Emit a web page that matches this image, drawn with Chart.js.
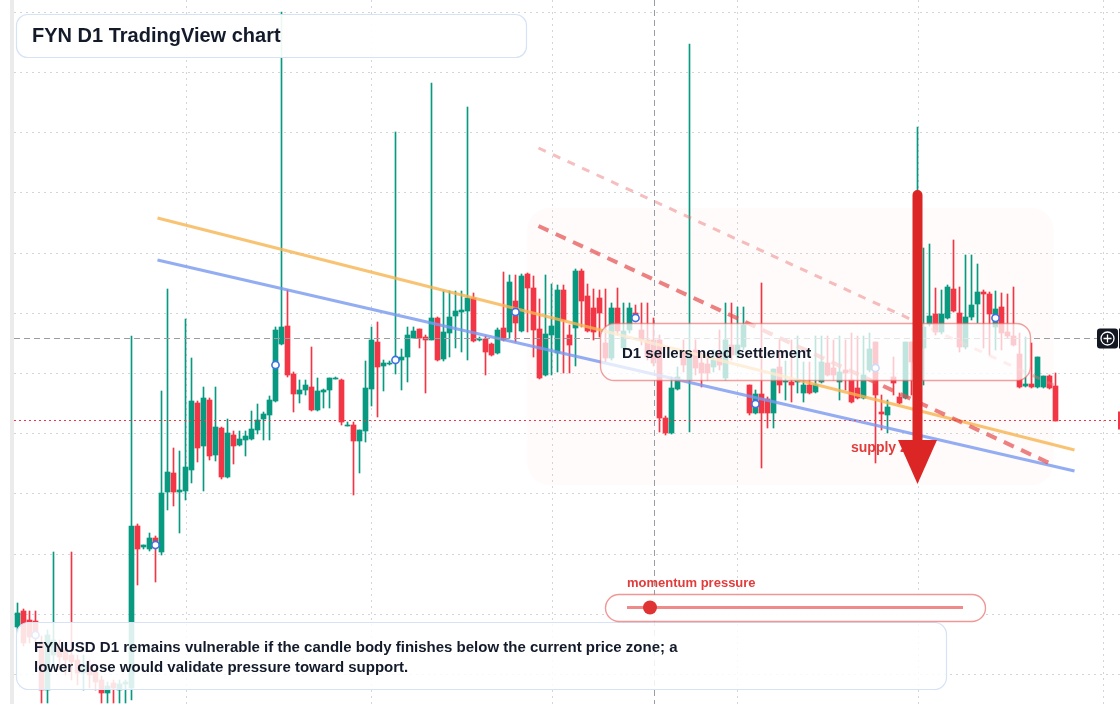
<!DOCTYPE html>
<html lang="en">
<head>
    <meta charset="UTF-8">
    <title>FYN D1 TradingView chart</title>
    <style>
        html, body { margin: 0; padding: 0; background: #ffffff; }
        canvas { display: block; }
    </style>
    <script src="https://cdn.jsdelivr.net/npm/chart.js"></script>
</head>
<body>
<canvas id="fynChart" width="1120" height="704"></canvas>
<script>
    // FYNUSD daily candles, oldest first
    const openP = [
        0.77,0.93,0.84,0.83,0.62,0.14,0.49,0.56,0.54,0.49,
        0.44,0.31,0.39,0.32,0.24,0.11,0.21,0.14,0.20,0.16,
        1.78,1.57,1.55,1.66,1.52,2.12,2.31,2.12,2.13,2.34,
        3.01,2.58,3.04,2.49,2.76,2.27,2.69,2.59,2.64,2.65,
        2.74,2.85,2.89,3.03,3.60,3.78,3.30,3.10,3.14,3.17,
        2.94,3.12,3.14,3.25,3.24,2.78,2.79,2.63,2.73,3.15,
        3.62,3.38,3.40,3.43,3.44,3.47,3.66,3.75,3.67,3.64,
        3.86,3.45,3.71,3.88,3.92,3.93,4.06,3.64,3.65,3.60,
        3.51,3.76,3.72,4.03,3.73,4.30,4.16,3.75,3.29,3.69,
        3.51,4.14,3.69,3.76,4.33,4.08,3.96,4.06,3.61,3.46,
        3.96,3.56,3.74,3.91,3.74,3.64,3.64,3.64,2.86,2.71,
        3.15,3.52,3.24,3.54,3.41,3.40,3.37,3.49,3.26,3.59,
        3.49,3.57,3.19,2.91,3.10,3.05,2.91,3.37,3.22,3.22,
        3.22,3.11,3.19,3.12,3.22,3.41,3.36,3.22,3.34,3.24,
        3.16,3.06,3.34,3.62,2.92,2.89,3.27,3.07,3.06,3.62,
        3.64,3.56,3.80,3.90,3.72,3.86,4.15,3.91,3.57,3.87,
        4.00,4.12,4.10,3.77,3.97,3.72,3.68,3.50,3.18,3.20,
        3.17,3.17,3.28,3.18
    ];
    const highP = [
        1.01,0.95,0.93,0.93,0.68,0.74,1.52,0.64,0.59,1.52,
        0.49,0.49,0.44,0.36,0.28,0.22,0.24,0.24,0.24,3.68,
        1.80,1.59,1.71,1.68,3.13,4.15,2.56,2.53,3.85,3.46,
        3.03,3.17,3.06,3.17,2.77,2.85,2.73,2.73,2.73,2.93,
        3.00,2.92,3.08,3.77,6.92,4.14,3.32,3.24,3.24,3.57,
        3.26,3.15,3.26,3.27,3.25,2.82,2.82,2.74,3.43,3.77,
        3.82,3.44,3.43,5.72,3.55,3.77,3.77,3.75,3.69,6.21,
        3.87,4.13,4.13,4.13,4.13,5.97,4.11,3.67,3.68,3.61,
        3.76,4.32,4.29,4.29,4.30,4.31,4.28,4.05,4.29,4.20,
        4.19,4.19,3.79,4.35,4.35,4.20,4.15,4.14,4.15,4.01,
        4.16,4.01,4.01,3.99,4.01,4.01,3.86,3.69,2.88,3.27,
        3.37,3.64,6.60,3.64,3.51,3.49,3.54,3.74,4.01,4.01,
        3.97,3.97,3.19,3.14,4.21,3.07,3.35,3.64,3.43,3.64,
        3.68,3.42,3.42,3.68,3.68,3.68,3.64,3.68,3.64,3.71,
        3.68,3.68,3.71,3.62,3.09,3.04,3.47,3.11,3.62,3.62,
        5.77,4.56,4.60,4.16,4.14,4.19,4.64,4.17,4.49,4.49,
        4.40,4.14,4.12,4.13,4.11,4.10,4.17,3.71,3.67,3.61,
        3.47,3.28,3.29,3.31
    ];
    const lowP = [
        0.72,0.58,0.61,0.54,0.01,0.01,0.39,0.34,0.29,0.24,
        0.19,0.14,0.16,0.14,0.01,0.01,0.01,0.01,0.01,0.04,
        1.19,1.55,1.53,1.22,1.49,1.94,1.98,1.71,2.04,2.21,
        2.42,2.13,2.44,2.43,2.25,2.26,2.40,2.58,2.48,2.64,
        2.70,2.64,2.64,3.02,3.59,3.27,2.92,3.01,3.09,2.93,
        2.93,2.96,2.96,3.25,2.79,2.78,2.09,2.31,2.62,2.98,
        2.87,3.13,3.39,3.30,3.14,3.22,3.66,3.56,3.11,3.64,
        3.43,3.43,3.47,3.56,3.52,3.44,3.62,3.63,3.29,3.48,
        3.50,3.63,3.66,3.62,3.72,3.72,3.47,3.25,3.28,3.29,
        3.32,3.31,3.31,3.38,3.77,3.72,3.64,3.67,3.42,3.44,
        3.69,3.52,3.71,3.84,3.59,3.44,3.38,2.72,2.69,2.70,
        3.14,3.32,2.72,3.29,3.17,3.24,3.32,3.34,3.24,3.44,
        3.46,3.54,2.89,2.90,2.36,2.76,2.76,3.11,3.04,3.02,
        3.11,3.02,3.10,3.11,3.21,3.28,3.24,3.04,3.14,3.01,
        3.05,3.05,3.32,2.41,2.74,2.71,3.09,3.00,3.05,3.09,
        3.04,3.19,3.78,3.69,3.70,3.85,3.92,3.52,3.55,3.84,
        3.81,3.56,3.49,3.54,3.54,3.66,3.58,3.16,3.17,3.16,
        3.16,3.16,3.15,2.83
    ];
    const closeP = [
        0.91,0.61,0.67,0.68,0.14,0.69,0.64,0.47,0.44,0.42,
        0.31,0.39,0.29,0.22,0.11,0.18,0.16,0.20,0.22,1.78,
        1.55,1.59,1.66,1.62,2.11,2.32,2.12,2.14,2.37,3.03,
        2.56,3.06,2.48,2.77,2.27,2.71,2.58,2.65,2.68,2.75,
        2.84,2.90,3.04,3.74,3.77,3.29,3.10,3.14,3.19,2.94,
        3.13,3.14,3.26,3.26,2.82,2.79,2.63,2.74,3.16,3.64,
        3.37,3.41,3.41,3.46,3.47,3.69,3.73,3.66,3.64,3.86,
        3.44,3.72,3.87,3.93,3.94,4.06,3.63,3.65,3.52,3.49,
        3.74,3.64,4.22,3.81,4.28,4.16,3.74,3.26,3.70,3.78,
        4.14,3.84,3.59,4.33,4.03,3.73,3.72,3.91,3.46,3.96,
        3.73,3.73,3.96,3.88,3.64,3.47,3.41,2.86,2.71,3.16,
        3.27,3.39,3.51,3.36,3.31,3.31,3.44,3.39,3.64,3.49,
        3.59,3.79,2.91,3.10,2.91,2.91,3.35,3.19,3.23,3.19,
        3.24,3.19,3.11,3.19,3.42,3.29,3.29,3.32,3.31,3.02,
        3.06,3.29,3.55,3.09,2.90,2.97,3.21,3.01,3.62,3.42,
        4.04,3.77,3.88,3.72,3.90,4.17,3.93,3.57,3.87,3.99,
        4.12,4.10,3.90,3.95,3.71,3.68,3.59,3.17,3.20,3.17,
        3.47,3.28,3.16,2.83
    ];

    // swing markers (every 20th session)
    const markerIdx = [3, 23, 43, 63, 83, 103, 123, 143, 163];
    const markerP = [0.69, 1.59, 3.39, 3.44, 3.92, 3.86, 3.00, 3.36, 3.86];

    // trend lines: [startIndex, startPrice, endIndex, endPrice]
    const orangeLine = [23.33, 4.86, 176.17, 2.54];
    const blueLine = [23.33, 4.44, 176.17, 2.33];
    const redLine = [86.83, 4.78, 172.67, 2.39];
    const redLineFaint = [86.83, 5.56, 172.67, 3.19];

    // levels
    const gridPrices = [6.925, 6.3225, 5.72, 5.1175, 4.515, 3.9125, 3.31, 2.7075, 2.105, 1.5025, 0.90, 0.2975];
    const gridCandles = [28.1, 58.9, 89.1, 119.9, 150.1, 180.9];
    const crossIdx = 106;
    const crossPrice = 3.66;
    const lastPrice = 2.84;
    const zoneBox = [85, 4.96, 172.67, 2.19];
    const arrowIdx = 150;
    const arrowPrices = [5.09, 2.64, 2.20]; // top, head base, tip

    const upColor = '#089981';
    const downColor = '#f23645';
    const idx = openP.map((_, i) => i);
    const candleColor = idx.map(i => closeP[i] >= openP[i] ? upColor : downColor);

    const FONT = '"Liberation Sans", Arial, sans-serif';

    function roundPath(ctx, x, y, w, h, r) {
        ctx.beginPath();
        ctx.moveTo(x + r, y);
        ctx.lineTo(x + w - r, y);
        ctx.arcTo(x + w, y, x + w, y + r, r);
        ctx.lineTo(x + w, y + h - r);
        ctx.arcTo(x + w, y + h, x + w - r, y + h, r);
        ctx.lineTo(x + r, y + h);
        ctx.arcTo(x, y + h, x, y + h - r, r);
        ctx.lineTo(x, y + r);
        ctx.arcTo(x, y, x + r, y, r);
        ctx.closePath();
    }

    function panel(ctx, x, y, w, h, r, fill, stroke, lw) {
        roundPath(ctx, x, y, w, h, r);
        ctx.fillStyle = fill;
        ctx.fill();
        ctx.lineWidth = lw;
        ctx.strokeStyle = stroke;
        ctx.stroke();
    }

    function line2(l) {
        return [{ x: l[0], y: l[1] }, { x: l[2], y: l[3] }];
    }

    const overlayPlugin = {
        id: 'overlay',
        beforeDraw(chart) {
            const ctx = chart.ctx;
            ctx.save();
            ctx.fillStyle = '#ffffff';
            ctx.fillRect(0, 0, chart.width, chart.height);
            ctx.restore();
        },
        beforeDatasetsDraw(chart) {
            const { ctx, scales: { x, y } } = chart;
            ctx.save();
            ctx.fillStyle = '#ebebeb';
            ctx.fillRect(10, 0, 4, chart.height);

            ctx.strokeStyle = '#d2d5da';
            ctx.lineWidth = 1;
            ctx.setLineDash([2, 4]);
            gridPrices.forEach(p => {
                const py = Math.round(y.getPixelForValue(p)) + 0.5;
                ctx.beginPath();
                ctx.moveTo(14, py);
                ctx.lineTo(chart.width, py);
                ctx.stroke();
            });
            gridCandles.forEach(c => {
                const px = Math.round(x.getPixelForValue(c)) + 0.5;
                ctx.beginPath();
                ctx.moveTo(px, 0);
                ctx.lineTo(px, chart.height);
                ctx.stroke();
            });
            ctx.setLineDash([]);

            // supply zone shading
            const zx1 = x.getPixelForValue(zoneBox[0]);
            const zy1 = y.getPixelForValue(zoneBox[1]);
            const zx2 = x.getPixelForValue(zoneBox[2]);
            const zy2 = y.getPixelForValue(zoneBox[3]);
            roundPath(ctx, zx1, zy1, zx2 - zx1, zy2 - zy1, 22);
            ctx.fillStyle = 'rgba(236, 205, 185, 0.08)';
            ctx.fill();
            ctx.restore();
        },
        afterDatasetsDraw(chart) {
            const { ctx, scales: { x, y } } = chart;
            const H = chart.height;
            ctx.save();

            // crosshair
            ctx.strokeStyle = '#9a9ca3';
            ctx.lineWidth = 1;
            ctx.setLineDash([6, 4]);
            const cx = Math.round(x.getPixelForValue(crossIdx)) + 0.5;
            const cy = Math.round(y.getPixelForValue(crossPrice)) + 0.5;
            ctx.beginPath(); ctx.moveTo(cx, 0); ctx.lineTo(cx, H); ctx.stroke();
            ctx.beginPath(); ctx.moveTo(14, cy); ctx.lineTo(1097, cy); ctx.stroke();

            // last price line
            ctx.strokeStyle = '#f23645';
            ctx.setLineDash([2, 3]);
            const ly = Math.round(y.getPixelForValue(lastPrice)) + 0.5;
            ctx.beginPath(); ctx.moveTo(14, ly); ctx.lineTo(1118, ly); ctx.stroke();
            ctx.setLineDash([]);

            // right labels
            ctx.fillStyle = '#f23645';
            ctx.fillRect(1118, ly - 9, 4, 18);
            ctx.fillStyle = '#131722';
            roundPath(ctx, 1097, cy - 10, 21, 20, 3);
            ctx.fill();
            ctx.fillRect(1119, cy - 10, 2, 20);
            ctx.strokeStyle = '#ffffff';
            ctx.lineWidth = 1.3;
            ctx.beginPath(); ctx.arc(1107.5, cy, 6.5, 0, Math.PI * 2); ctx.stroke();
            ctx.beginPath();
            ctx.moveTo(1103.5, cy); ctx.lineTo(1111.5, cy);
            ctx.moveTo(1107.5, cy - 4); ctx.lineTo(1107.5, cy + 4);
            ctx.stroke();

            // title
            panel(ctx, 16.5, 14.5, 510, 43, 11, 'rgba(255,255,255,0.93)', '#d6e3f7', 1.2);
            ctx.fillStyle = '#131a2a';
            ctx.font = 'bold 20px ' + FONT;
            ctx.textBaseline = 'middle';
            ctx.fillText('FYN D1 TradingView chart', 32, 36.5);

            // settlement note
            panel(ctx, 600.5, 323.5, 430, 57, 14, 'rgba(255,255,255,0.74)', 'rgba(232, 96, 96, 0.6)', 1.4);
            ctx.fillStyle = '#131a2a';
            ctx.font = 'bold 15px ' + FONT;
            ctx.fillText('D1 sellers need settlement', 622, 354);

            // bottom commentary
            panel(ctx, 16.5, 622.5, 930, 67, 12, 'rgba(255,255,255,0.86)', '#d6e3f7', 1.2);
            ctx.fillStyle = '#131a2a';
            ctx.font = 'bold 15px ' + FONT;
            ctx.fillText('FYNUSD D1 remains vulnerable if the candle body finishes below the current price zone; a', 34, 648);
            ctx.fillText('lower close would validate pressure toward support.', 34, 668);

            // momentum slider
            ctx.fillStyle = '#e23b3b';
            ctx.font = 'bold 13px ' + FONT;
            ctx.fillText('momentum pressure', 627, 583);
            panel(ctx, 605.5, 594.5, 380, 27, 13.5, 'rgba(255,255,255,0.92)', 'rgba(232, 96, 96, 0.65)', 1.4);
            ctx.strokeStyle = '#ef8a8a';
            ctx.lineWidth = 3;
            ctx.beginPath(); ctx.moveTo(627, 607.5); ctx.lineTo(963, 607.5); ctx.stroke();
            ctx.fillStyle = '#e03434';
            ctx.beginPath(); ctx.arc(650, 607.5, 7, 0, Math.PI * 2); ctx.fill();

            // supply zone label + arrow
            ctx.fillStyle = '#e03c3c';
            ctx.font = 'bold 14px ' + FONT;
            ctx.fillText('supply zone', 851, 448);
            const ax = x.getPixelForValue(arrowIdx);
            const aTop = y.getPixelForValue(arrowPrices[0]);
            const aBase = y.getPixelForValue(arrowPrices[1]);
            const aTip = y.getPixelForValue(arrowPrices[2]);
            ctx.strokeStyle = '#dc2626';
            ctx.fillStyle = '#dc2626';
            ctx.lineWidth = 10;
            ctx.lineCap = 'round';
            ctx.beginPath(); ctx.moveTo(ax, aTop); ctx.lineTo(ax, aBase); ctx.stroke();
            ctx.beginPath();
            ctx.moveTo(ax - 19.5, aBase);
            ctx.lineTo(ax + 19.5, aBase);
            ctx.lineTo(ax, aTip);
            ctx.closePath();
            ctx.fill();

            ctx.restore();
        }
    };

    new Chart(document.getElementById('fynChart'), {
        data: {
            datasets: [
                {
                    type: 'line',
                    label: 'markers',
                    data: markerIdx.map((i, k) => ({ x: i, y: markerP[k] })),
                    showLine: false,
                    pointRadius: 3.6,
                    pointBorderWidth: 1.6,
                    pointBorderColor: '#3f6fe4',
                    pointBackgroundColor: '#ffffff',
                    order: 1
                },
                {
                    type: 'line',
                    label: 'red faint',
                    data: line2(redLineFaint),
                    borderColor: 'rgba(236, 110, 110, 0.45)',
                    borderWidth: 3,
                    borderDash: [8, 8],
                    pointRadius: 0,
                    order: 2
                },
                {
                    type: 'line',
                    label: 'red',
                    data: line2(redLine),
                    borderColor: 'rgba(230, 80, 80, 0.72)',
                    borderWidth: 4,
                    borderDash: [11, 8],
                    pointRadius: 0,
                    order: 2
                },
                {
                    type: 'line',
                    label: 'blue',
                    data: line2(blueLine),
                    borderColor: 'rgba(120, 152, 240, 0.8)',
                    borderWidth: 3,
                    pointRadius: 0,
                    order: 2
                },
                {
                    type: 'line',
                    label: 'orange',
                    data: line2(orangeLine),
                    borderColor: 'rgba(246, 180, 80, 0.8)',
                    borderWidth: 3,
                    pointRadius: 0,
                    order: 2
                },
                {
                    type: 'bar',
                    label: 'body',
                    data: idx.map(i => ({ x: i, y: [openP[i], closeP[i]] })),
                    backgroundColor: candleColor,
                    barThickness: 5,
                    grouped: false,
                    order: 3
                },
                {
                    type: 'bar',
                    label: 'wick',
                    data: idx.map(i => ({ x: i, y: [lowP[i], highP[i]] })),
                    backgroundColor: candleColor,
                    barThickness: 1,
                    grouped: false,
                    order: 4
                }
            ]
        },
        options: {
            responsive: false,
            animation: false,
            devicePixelRatio: 1,
            events: [],
            layout: { padding: 0, autoPadding: false },
            plugins: {
                legend: { display: false },
                tooltip: { enabled: false }
            },
            scales: {
                x: { type: 'linear', offset: false, min: -17.5 / 6, max: -17.5 / 6 + 1120 / 6, display: false },
                y: { type: 'linear', min: 0, max: 7.04, display: false }
            }
        },
        plugins: [overlayPlugin]
    });
</script>
</body>
</html>
